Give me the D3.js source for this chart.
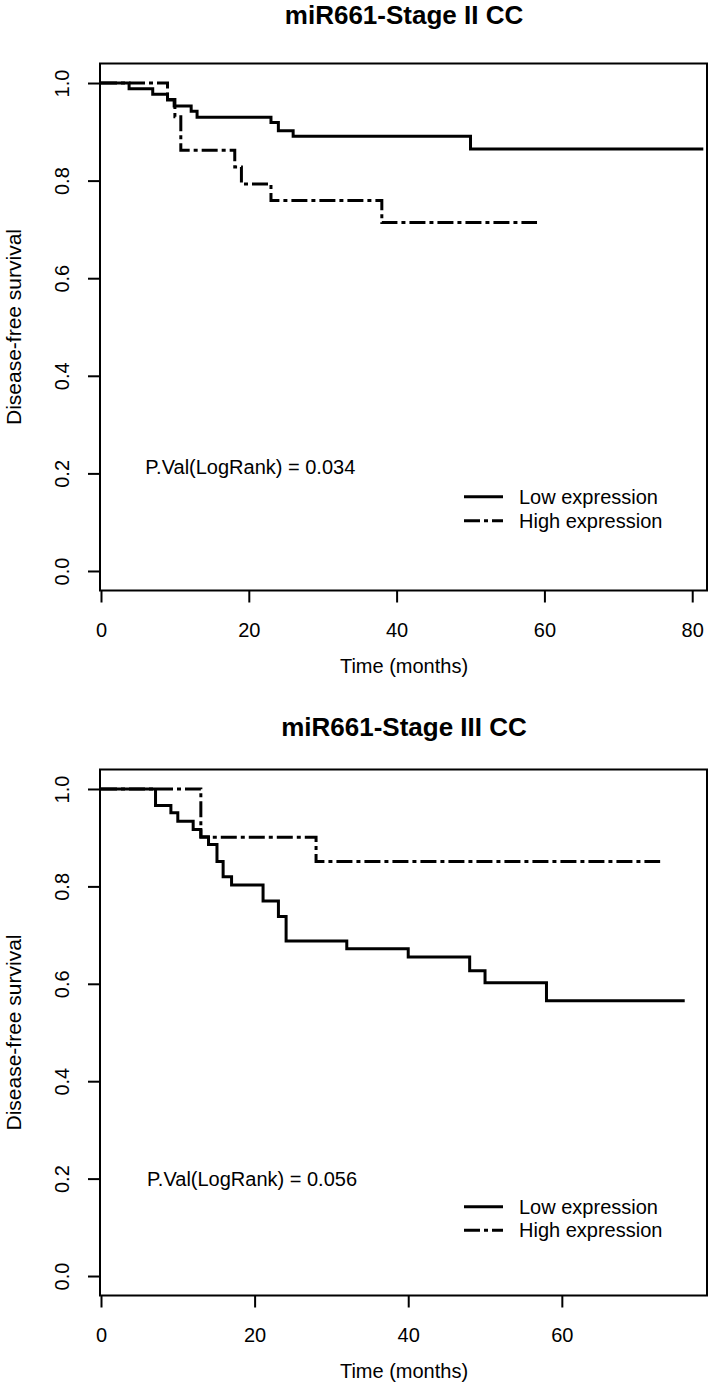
<!DOCTYPE html>
<html>
<head>
<meta charset="utf-8">
<script src="https://cdn.jsdelivr.net/npm/d3@7"></script>
<style>
  html, body { margin: 0; padding: 0; background: #fff; }
  svg { display: block; }
  text { font-family: "Liberation Sans", Arial, sans-serif; fill: #000; }
</style>
</head>
<body>
<svg id="chart" width="709" height="1385"></svg>
<script>
// ---------- DATA ----------
const panelTitles = ["miR661-Stage II CC", "miR661-Stage III CC"];
const pValueLabels = ["P.Val(LogRank) = 0.034", "P.Val(LogRank) = 0.056"];
const seriesNames = ["Low expression", "High expression"];
const xTicks = [[0, 20, 40, 60, 80], [0, 20, 40, 60]];
const yTicks = [0.0, 0.2, 0.4, 0.6, 0.8, 1.0];
const xAxisTitle = "Time (months)";
const yAxisTitle = "Disease-free survival";

// Stage II
const lowTimesII  = [0, 3.8, 7.0, 9.0, 9.9, 12.2, 13.0, 23.0, 24.0, 26.0, 50.0, 81.5];
const lowSurvII   = [1.0, 0.988, 0.977, 0.965, 0.953, 0.942, 0.930, 0.919, 0.902, 0.891, 0.865, 0.865];
const highTimesII = [0, 9.0, 10.0, 10.8, 18.1, 19.0, 23.0, 38.0, 59.0];
const highSurvII  = [1.0, 0.966, 0.931, 0.862, 0.828, 0.793, 0.759, 0.714, 0.714];

// Stage III
const lowTimesIII  = [0, 7.1, 9.1, 10.0, 12.0, 13.0, 14.0, 15.1, 15.9, 17.0, 21.1, 23.1, 24.1, 32.0, 40.0, 48.0, 50.0, 58.0, 76.0];
const lowSurvIII   = [1.0, 0.966, 0.951, 0.934, 0.917, 0.902, 0.886, 0.851, 0.820, 0.803, 0.770, 0.738, 0.688, 0.672, 0.655, 0.627, 0.602, 0.565, 0.565];
const highTimesIII = [0, 13.0, 28.0, 72.8];
const highSurvIII  = [1.0, 0.901, 0.851, 0.851];

// ---------- LAYOUT ----------
const panels = [
  { title: panelTitles[0], pval: pValueLabels[0], xMax: 82, top: 63.5, bottom: 590.5, titleY: 24,
    xt: xTicks[0], pvalT: 6, pvalS: 0.213, legS: [0.152, 0.103],
    low: {t: lowTimesII, s: lowSurvII}, high: {t: highTimesII, s: highSurvII} },
  { title: panelTitles[1], pval: pValueLabels[1], xMax: 78.9, top: 769.5, bottom: 1295.5, titleY: 736,
    xt: xTicks[1], pvalT: 6, pvalS: 0.200, legS: [0.142, 0.094],
    low: {t: lowTimesIII, s: lowSurvIII}, high: {t: highTimesIII, s: highSurvIII} }
];
const left = 101, right = 707;
const fs = 20;
const dashPattern = "16,4,4,4";

const svg = d3.select("#chart");

panels.forEach(p => {
  const x = d3.scaleLinear().domain([0, p.xMax]).range([left, right]);
  const y = d3.scaleLinear().domain([-0.04, 1.04]).range([p.bottom, p.top]);
  const g = svg.append("g");

  // title
  g.append("text").attr("x", (left + right) / 2).attr("y", p.titleY)
    .attr("text-anchor", "middle").attr("font-weight", "bold").attr("font-size", 26)
    .text(p.title);

  // x axis
  const xa = g.append("g").attr("transform", `translate(0,${p.bottom})`)
    .call(d3.axisBottom(x).tickValues(p.xt).tickSize(12).tickSizeOuter(0).tickPadding(20).tickFormat(d3.format("d")));
  xa.select(".domain").remove();
  xa.selectAll("line").attr("stroke", "#000").attr("stroke-width", 2);
  xa.selectAll("text").attr("font-size", fs).attr("font-family", "Liberation Sans, Arial, sans-serif").attr("fill", "#000");

  // y axis
  const ya = g.append("g").attr("transform", `translate(${left - 1},0)`)
    .call(d3.axisLeft(y).tickValues(yTicks).tickSize(12).tickSizeOuter(0).tickFormat(d3.format(".1f")));
  ya.select(".domain").remove();
  ya.selectAll("line").attr("stroke", "#000").attr("stroke-width", 2);
  ya.selectAll("text")
    .attr("font-size", fs).attr("font-family", "Liberation Sans, Arial, sans-serif").attr("fill", "#000")
    .attr("text-anchor", "middle").attr("x", null).attr("dy", null)
    .attr("transform", "translate(-31,0) rotate(-90)");

  // axis titles
  g.append("text").attr("x", (left + right) / 2).attr("y", p.bottom + 82)
    .attr("text-anchor", "middle").attr("font-size", fs).text(xAxisTitle);
  g.append("text").attr("transform", `translate(21,${(p.top + p.bottom) / 2}) rotate(-90)`)
    .attr("text-anchor", "middle").attr("font-size", 21).text(yAxisTitle);

  // box
  g.append("rect").attr("x", left - 1).attr("y", p.top).attr("width", right - left + 1).attr("height", p.bottom - p.top)
    .attr("fill", "none").attr("stroke", "#000").attr("stroke-width", 2);

  // curves
  const line = d3.line().x(d => x(d[0])).y(d => y(d[1])).curve(d3.curveStepAfter);
  const lowPts = p.low.t.map((t, i) => [t, p.low.s[i]]);
  const highPts = p.high.t.map((t, i) => [t, p.high.s[i]]);
  g.append("path").attr("d", line(highPts)).attr("fill", "none").attr("stroke", "#000")
    .attr("stroke-width", 3).attr("stroke-dasharray", dashPattern);
  g.append("path").attr("d", line(lowPts)).attr("fill", "none").attr("stroke", "#000")
    .attr("stroke-width", 3);

  // p-value
  g.append("text").attr("x", x(p.pvalT)).attr("y", y(p.pvalS)).attr("dy", "0.35em")
    .attr("font-size", fs).text(p.pval);

  // legend
  seriesNames.forEach((name, i) => {
    const ly = y(p.legS[i]);
    g.append("line").attr("x1", 464).attr("x2", 503).attr("y1", ly).attr("y2", ly)
      .attr("stroke", "#000").attr("stroke-width", 3)
      .attr("stroke-dasharray", i === 0 ? null : dashPattern);
    g.append("text").attr("x", 519).attr("y", ly).attr("dy", "0.35em").attr("font-size", fs).text(name);
  });
});
</script>
</body>
</html>
